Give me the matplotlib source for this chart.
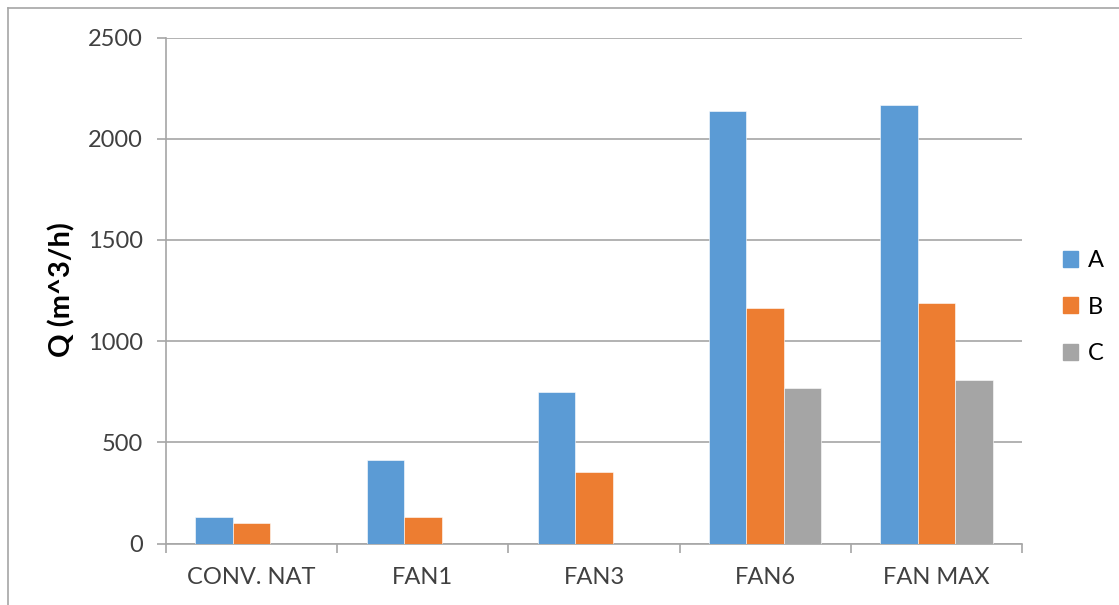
import matplotlib
matplotlib.use("Agg")
import matplotlib.pyplot as plt
import numpy as np
from matplotlib.lines import Line2D

categories = ["CONV. NAT", "FAN1", "FAN3", "FAN6", "FAN MAX"]
series_names = ["A", "B", "C"]
values_a = [130, 413, 748, 2138, 2165]
values_b = [100, 130, 353, 1162, 1188]
values_c = [0, 0, 0, 770, 806]
colors = ["#5B9BD5", "#ED7D31", "#A5A5A5"]
y_ticks = [0, 500, 1000, 1500, 2000, 2500]

plt.rcParams["font.family"] = ["Lato", "DejaVu Sans"]

W, H = 1119, 605
fig = plt.figure(figsize=(W / 100, H / 100), dpi=100)
ax = fig.add_axes([166 / W, 1 - 543.5 / H, (1022 - 166) / W, (543.5 - 37.5) / H])

x = np.arange(len(categories))
width = 0.219
for i, (vals, name, col) in enumerate(zip([values_a, values_b, values_c], series_names, colors)):
    ax.bar(x + (i - 1) * width, vals, width, color=col, label=name, zorder=3,
           edgecolor="white", linewidth=0.4)

ax.set_xlim(-0.5, len(categories) - 0.5)
ax.set_ylim(0, 2500)
ax.set_yticks(y_ticks)
ax.set_yticklabels([str(v) for v in y_ticks], fontsize=17, color="#404040")
ax.set_xticks(x)
ax.set_xticklabels(categories, fontsize=17, color="#404040")
ax.tick_params(axis="x", length=0, pad=17)
ax.tick_params(axis="y", length=6.5, width=1.2, color="#A6A6A6", pad=10)
# category boundary ticks below the axis
ax.set_xticks(np.arange(len(categories) + 1) - 0.5, minor=True)
ax.tick_params(axis="x", which="minor", length=6.5, width=1.2, color="#A6A6A6")

ax.grid(axis="y", color="#A6A6A6", linewidth=1.2, zorder=0)
for side in ["top", "right"]:
    ax.spines[side].set_visible(False)
for side in ["left", "bottom"]:
    ax.spines[side].set_color("#A6A6A6")
    ax.spines[side].set_linewidth(1.2)

fig.text(62 / W, 1 - 290 / H, "Q (m^3/h)", fontsize=21, fontweight="bold", color="black",
         rotation=90, ha="center", va="center")

handles = [plt.Rectangle((0, 0), 1, 1, color=c) for c in colors]
fig.legend(handles, series_names, loc="center left", bbox_to_anchor=(1063 / W, 1 - 307 / H),
           frameon=False, fontsize=17, handlelength=0.64, handleheight=0.64, borderpad=0,
           borderaxespad=0, labelspacing=1.08, handletextpad=0.42)

# outer frame (top and left edges)
fig.add_artist(Line2D([8 / W, 1], [1 - 8 / H, 1 - 8 / H], color="#A6A6A6", linewidth=1.2))
fig.add_artist(Line2D([8 / W, 8 / W], [0, 1 - 8 / H], color="#A6A6A6", linewidth=1.2))

fig.savefig("out.png", dpi=100)
